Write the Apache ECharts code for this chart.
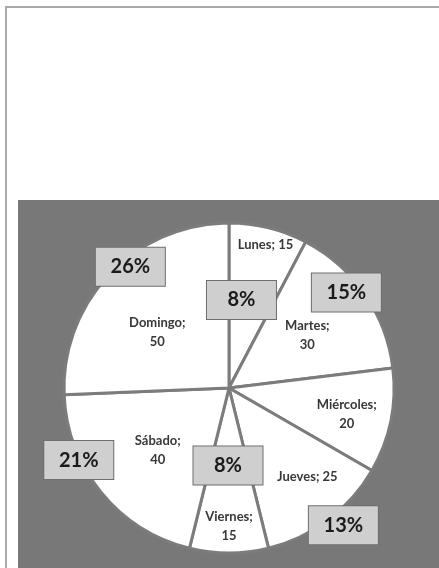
<!DOCTYPE html>
<html>
<head>
<meta charset="utf-8">
<script src="https://cdn.jsdelivr.net/npm/echarts@6/dist/echarts.min.js"></script>
<style>
html,body{margin:0;padding:0;background:#fff;}
#c{width:439px;height:568px;}
</style>
</head>
<body>
<div id="c"></div>
<script>
// Data
const days = ['Lunes', 'Martes', 'Miércoles', 'Jueves', 'Viernes', 'Sábado', 'Domingo'];
const counts = [15, 30, 20, 25, 15, 40, 50];

// Label placement (pixel offsets from the library's inside label position)
const nameOffsets = [[16, -60], [8, -4], [34, 9], [27, 20], [0, 53], [-5, 8], [-10, 4]];
const nameBreak = [false, true, true, false, true, true, true];
const pctOffsets = [[-8, -5], [47, -47], [85, 38], [63, 69], [-1, -8], [-84, 18], [-37, -62]];

const total = counts.reduce((a, b) => a + b, 0);
const FONT = 'Lato, "Open Sans", sans-serif';
const center = [229, 388];
const radius = 165;

const nameData = days.map((d, i) => ({
  name: d,
  value: counts[i],
  label: { offset: nameOffsets[i] }
}));
const pctData = days.map((d, i) => ({
  name: d,
  value: counts[i],
  label: { offset: pctOffsets[i] }
}));

const chart = echarts.init(document.getElementById('c'), null, { renderer: 'canvas' });
chart.setOption({
  animation: false,
  backgroundColor: '#ffffff',
  graphic: [
    { type: 'polyline', shape: { points: [[6, 568], [6, 7], [439, 7]] },
      style: { stroke: '#a9a9a9', lineWidth: 2, fill: null }, z: 0 },
    { type: 'rect', shape: { x: 18, y: 200, width: 421, height: 368 },
      style: { fill: '#787878' }, z: -1 }
  ],
  series: [
    {
      type: 'pie',
      center: center,
      radius: radius,
      startAngle: 90,
      clockwise: true,
      silent: true,
      z: 2,
      itemStyle: { color: '#ffffff', borderColor: '#7c7c7c', borderWidth: 3 },
      label: {
        position: 'inside',
        rotate: 0,
        fontFamily: FONT,
        fontWeight: 'bold',
        fontSize: 13,
        lineHeight: 19,
        color: '#383838',
        align: 'center',
        formatter: p => p.name + ';' + (nameBreak[p.dataIndex] ? '\n' : ' ') + p.value
      },
      labelLine: { show: false },
      data: nameData
    },
    {
      type: 'pie',
      center: center,
      radius: radius,
      startAngle: 90,
      clockwise: true,
      silent: true,
      z: 3,
      itemStyle: { color: 'rgba(0,0,0,0)', borderWidth: 0 },
      label: {
        position: 'inside',
        rotate: 0,
        fontFamily: FONT,
        fontWeight: 'bold',
        fontSize: 20,
        color: '#1a1a1a',
        backgroundColor: '#cfcfcf',
        borderColor: '#6e6e6e',
        borderWidth: 1,
        width: 69,
        height: 38,
        lineHeight: 38,
        padding: 0,
        align: 'center',
        verticalAlign: 'middle',
        formatter: p => Math.round(p.value / total * 100) + '%'
      },
      labelLine: { show: false },
      data: pctData
    }
  ]
});
</script>
</body>
</html>
